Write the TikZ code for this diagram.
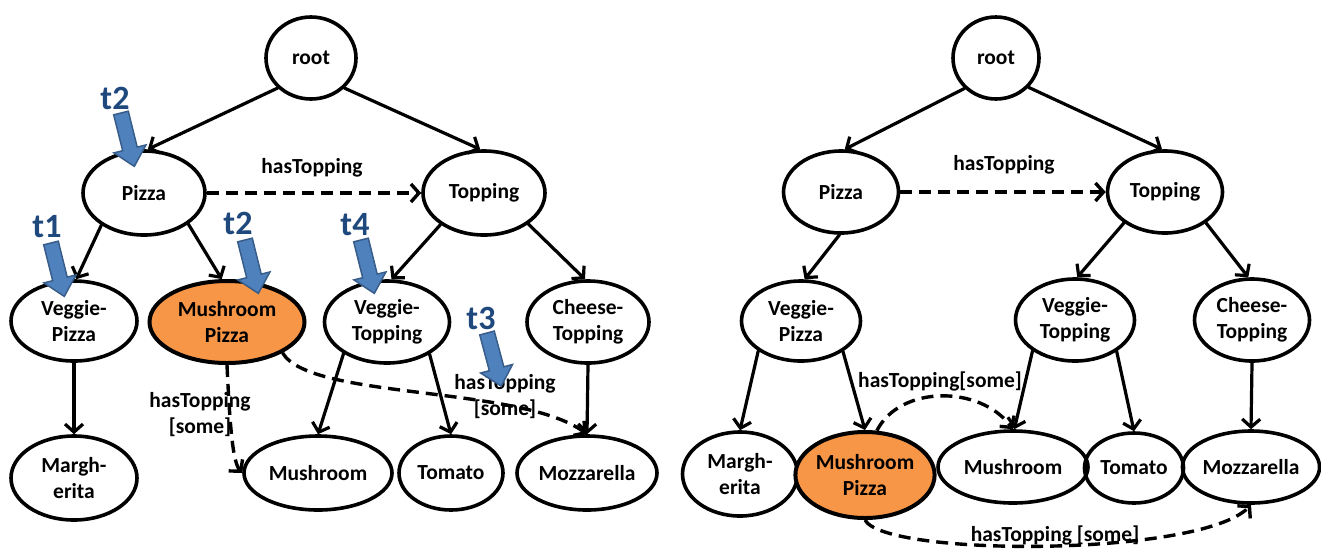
\documentclass[tikz,border=0pt]{standalone}
\usepackage{fontspec}
\setmainfont{Carlito}
\usetikzlibrary{arrows.meta,shapes.geometric}
\definecolor{mporange}{RGB}{247,150,70}
\definecolor{tfill}{RGB}{79,129,189}
\definecolor{tedge}{RGB}{56,93,138}
\definecolor{tlabel}{RGB}{31,73,125}
\tikzset{
  cls/.style={ellipse, draw=black, line width=3.6pt, inner sep=0pt, align=center,
    font=\bfseries\fontsize{21.5}{26}\selectfont},
  hl/.style={cls, fill=mporange, line width=4pt},
  barb/.tip={Straight Barb[length=8pt,width=18pt]},
  isa/.style={line width=3.2pt, line cap=round, -barb},
  rel/.style={line width=3.4pt, dash pattern=on 12pt off 7pt, -barb},
  rellabel/.style={inner sep=0pt, align=center, font=\bfseries\fontsize{21.5}{26}\selectfont},
  tlab/.style={inner sep=0pt, text=tlabel, font=\bfseries\fontsize{34}{34}\selectfont},
  tarrow/.pic={
    \draw[fill=tfill, draw=tedge, line width=1.5pt, line join=miter]
      (-7.5,0) -- (7.5,0) -- (7.5,37) -- (16.5,37) -- (0,55) -- (-16.5,37) -- (-7.5,37) -- cycle;
  }
}
\begin{document}
\begin{tikzpicture}[x=1pt, y=-1pt]
\useasboundingbox (0,0) rectangle (1321,550);

% ---------- left taxonomy ----------
\node[cls, minimum width=90, minimum height=82]  (rootL)  at (311,58)  {root};
\node[cls, minimum width=122, minimum height=84] (pizzaL) at (144,193) {Pizza};
\node[cls, minimum width=122, minimum height=84] (topL)   at (484,193) {Topping};
\node[cls, minimum width=126, minimum height=80] (vpL)    at (74,321)  {Veggie-\\Pizza};
\node[hl,  minimum width=155, minimum height=82] (mpL)    at (227,322) {Mushroom\\Pizza};
\node[cls, minimum width=125, minimum height=82] (vtL)    at (387,322) {Veggie-\\Topping};
\node[cls, minimum width=122, minimum height=82] (ctL)    at (588,322) {Cheese-\\Topping};
\node[cls, minimum width=126, minimum height=84] (margL)  at (74,478)  {Margh-\\erita};
\node[cls, minimum width=148, minimum height=74] (mushL)  at (318,473) {Mushroom};
\node[cls, minimum width=104, minimum height=74] (tomL)   at (451,473) {Tomato};
\node[cls, minimum width=140, minimum height=74] (mozzL)  at (587,473) {Mozzarella};

\draw[isa] (rootL.222)  -- (pizzaL.85);
\draw[isa] (rootL.318)  -- (topL.95);
\draw[isa] (pizzaL.217) -- (vpL.87);
\draw[isa] (pizzaL.325) -- (mpL.97);
\draw[isa] (topL.216)   -- (vtL.84);
\draw[isa] (topL.325)   -- (ctL.94);
\draw[isa] (vpL.south)  -- (margL.north);
\draw[isa] (vtL.216)    -- (mushL.north);
\draw[isa] (vtL.323)    -- (tomL.north);
\draw[isa] (ctL.south)  -- (mozzL.north);

\draw[rel] (pizzaL.east) -- (topL.west);
\draw[rel] (mpL.south) .. controls (230,430) and (233,462) .. (mushL.west);
\draw[rel] (mpL.331) .. controls (310,400) and (520,385) .. (mozzL.north);

\node[rellabel] (lblL1) at (312,168) {hasTopping};
\node[rellabel] (lblL2) at (200,415) {hasTopping\\{}[some]};
\node[rellabel] (lblL3) at (505,397) {hasTopping\\{}[some]};

% ---------- right taxonomy ----------
\node[cls, minimum width=86, minimum height=82]  (rootR)  at (996,58)   {root};
\node[cls, minimum width=115, minimum height=82] (pizzaR) at (841,192)  {Pizza};
\node[cls, minimum width=115, minimum height=82] (topR)   at (1165,192) {Topping};
\node[cls, minimum width=119, minimum height=80] (vpR)    at (801,321)  {Veggie-\\Pizza};
\node[cls, minimum width=119, minimum height=82] (vtR)    at (1075,320) {Veggie-\\Topping};
\node[cls, minimum width=115, minimum height=82] (ctR)    at (1252,320) {Cheese-\\Topping};
\node[cls, minimum width=115, minimum height=84] (margR)  at (740,474)  {Margh-\\erita};
\node[hl,  minimum width=138, minimum height=86] (mpR)    at (865,475)  {Mushroom\\Pizza};
\node[cls, minimum width=150, minimum height=72] (mushR)  at (1013,467) {Mushroom};
\node[cls, minimum width=99,  minimum height=70] (tomR)   at (1134,468) {Tomato};
\node[cls, minimum width=135, minimum height=72] (mozzR)  at (1251,467) {Mozzarella};

\draw[isa] (rootR.224)  -- (pizzaR.85);
\draw[isa] (rootR.318)  -- (topR.94);
\draw[isa] (pizzaR.268) -- (vpR.85);
\draw[isa] (topR.217)   -- (vtR.87);
\draw[isa] (topR.323)   -- (ctR.95);
\draw[isa] (vpR.215)    -- (margR.north);
\draw[isa] (vpR.324)    -- (mpR.north);
\draw[isa] (vtR.216)    -- (mushR.88);
\draw[isa] (vtR.323)    -- (tomR.north);
\draw[isa] (ctR.south)  -- (mozzR.north);

\draw[rel] (pizzaR.east) -- (topR.west);
\draw[rel] (mpR.75) .. controls (900,385) and (980,385) .. (mushR.north);
\draw[rel] (mpR.south) .. controls (885,557) and (1200,557) .. (mozzR.south);

\node[rellabel] (lblR1) at (1004,165) {hasTopping};
\node[rellabel] (lblR2) at (940,381)  {hasTopping[some]};
\node[rellabel] (lblR3) at (1055,535) {hasTopping [some]};

% ---------- traversal markers ----------
\pic[rotate=14] at (121,113) {tarrow};
\pic[rotate=14] at (51,243)  {tarrow};
\pic[rotate=14] at (245,240) {tarrow};
\pic[rotate=14] at (361,240) {tarrow};
\pic[rotate=15] at (487,333) {tarrow};
\node[tlab] (t2a) at (115,98)  {t2};
\node[tlab] (t1)  at (47,227)  {t1};
\node[tlab] (t2b) at (238,223) {t2};
\node[tlab] (t4)  at (355,225) {t4};
\node[tlab] (t3)  at (481,318) {t3};
\end{tikzpicture}
\end{document}
